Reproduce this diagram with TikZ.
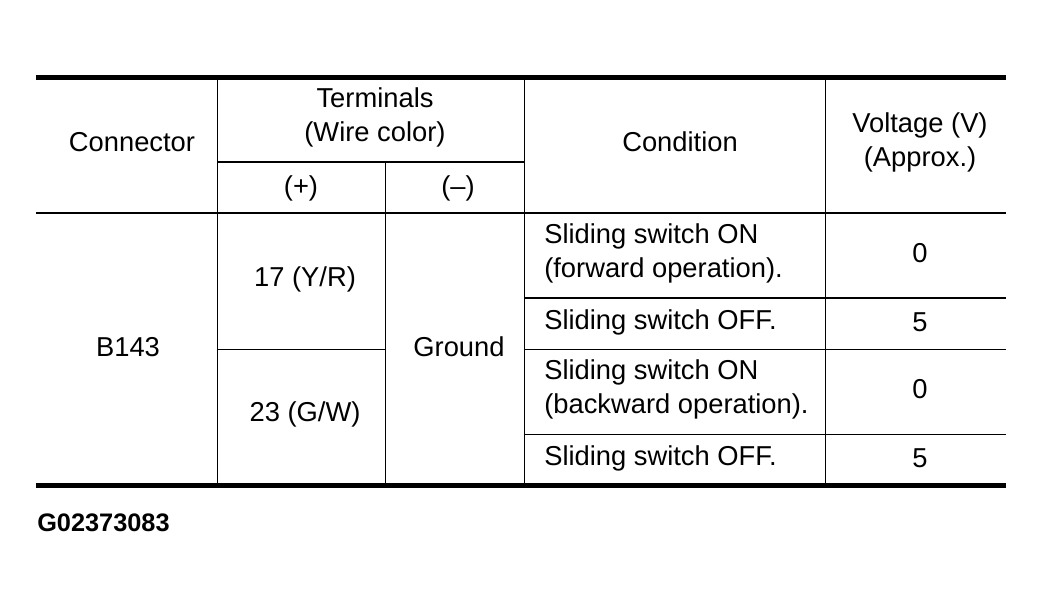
\documentclass[tikz,border=0pt]{standalone}
\usepackage{fontspec}
\setmainfont{Liberation Sans}
\usepackage{tikz}

\begin{document}
\begin{tikzpicture}[
    x=0.75pt, y=-0.75pt,
    cell/.style={inner sep=0pt, align=center, font=\fontsize{20.5}{25.5}\selectfont},
    cond/.style={inner sep=0pt, anchor=west, align=left, font=\fontsize{20.5}{25.5}\selectfont},
    rule/.style={line width=3.75pt},
    mid/.style={line width=1.5pt},
    thin/.style={line width=0.75pt},
]
\useasboundingbox (0,0) rectangle (1044,607);

% Rules
\draw[rule] (36,77) -- (1006,77);
\draw[rule] (36,485) -- (1006,485);
\draw[mid] (36,212.5) -- (1006,212.5);
\draw[mid] (217,162) -- (524,162);
\draw[mid] (524,298) -- (1006,298);
\draw[thin] (217,349) -- (385,349);
\draw[thin] (524,349) -- (1006,349);
\draw[thin] (524,434) -- (1006,434);
\foreach \x in {217,524,825} \draw[thin] (\x,79) -- (\x,483);
\draw[thin] (385,162) -- (385,483);

% Header
\node[cell] (conn) at (132,142) {Connector};
\node[cell] (term) at (375,117) {Terminals\\(Wire color)};
\node[cell] (plus) at (301,188) {(+)};
\node[cell] (minus) at (458,188) {(--)};
\node[cell] (cond) at (680,142) {Condition};
\node[cell] (volt) at (920,142) {Voltage (V)\\(Approx.)};

% Body
\node[cell] (b143) at (128,347) {B143};
\node[cell] (t17) at (305,279) {17 (Y/R)};
\node[cell] (t23) at (305,414) {23 (G/W)};
\node[cell] (gnd) at (459,347) {Ground};
\node[cond] (c1) at (544,253) {Sliding switch ON\\(forward operation).};
\node[cond] (c2) at (544,322) {Sliding switch OFF.};
\node[cond] (c3) at (544,389) {Sliding switch ON\\(backward operation).};
\node[cond] (c4) at (544,458) {Sliding switch OFF.};
\node[cell] (v1) at (920,253) {0};
\node[cell] (v2) at (920,322) {5};
\node[cell] (v3) at (920,389) {0};
\node[cell] (v4) at (920,458) {5};

\node[inner sep=0pt, anchor=west, font=\fontsize{19}{22}\selectfont\bfseries] (code) at (37,523) {G02373083};

\end{tikzpicture}
\end{document}
